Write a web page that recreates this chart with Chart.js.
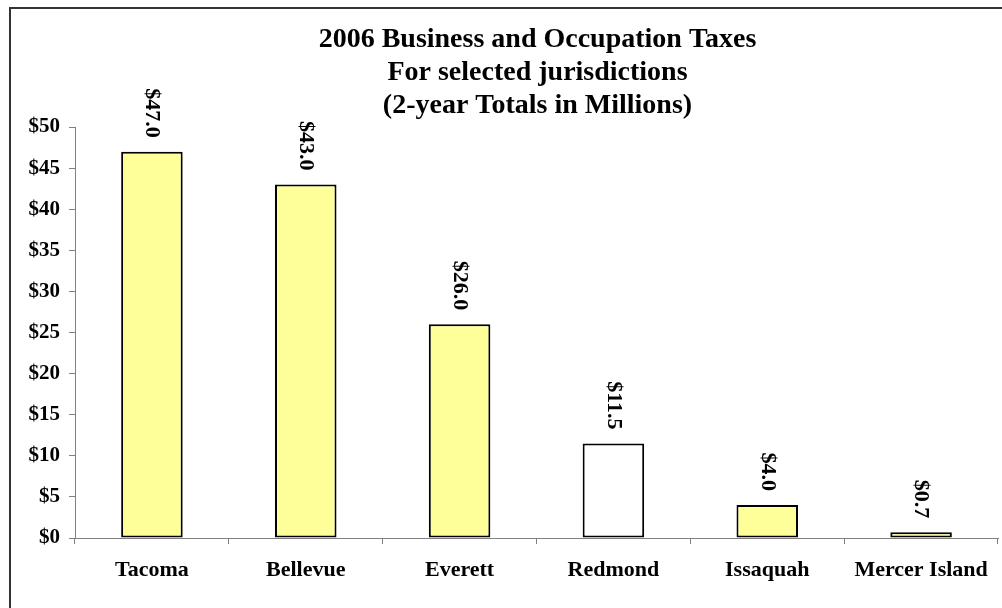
<!DOCTYPE html>
<html>
<head>
<meta charset="utf-8">
<script src="https://cdn.jsdelivr.net/npm/chart.js@4"></script>
<style>
  html, body { margin: 0; padding: 0; background: #fff; overflow: hidden; }
  canvas { display: block; }
</style>
</head>
<body>
<canvas id="c" width="1002" height="608"></canvas>
<script>
const categories = ['Tacoma', 'Bellevue', 'Everett', 'Redmond', 'Issaquah', 'Mercer Island'];
const values = [47.0, 43.0, 26.0, 11.5, 4.0, 0.7];
const titleLines = ['2006 Business and Occupation Taxes', 'For selected jurisdictions', '(2-year Totals in Millions)'];
const yMin = 0, yMax = 50, yStep = 5;

const FONT = "'Liberation Serif', 'Times New Roman', serif";

const framePlugin = {
  id: 'frame',
  beforeDraw(chart) {
    const ctx = chart.ctx;
    ctx.save();
    ctx.fillStyle = '#fff';
    ctx.fillRect(0, 0, chart.width, chart.height);
    ctx.strokeStyle = '#333';
    ctx.lineWidth = 2;
    ctx.strokeRect(10, 8, chart.width + 20, chart.height + 20);
    ctx.restore();
  }
};

const titlePlugin = {
  id: 'centeredTitle',
  afterDraw(chart) {
    const ctx = chart.ctx;
    const a = chart.chartArea;
    const cx = (a.left + a.right) / 2 + 1;
    ctx.save();
    ctx.font = "bold 28px " + FONT;
    ctx.fillStyle = '#000';
    ctx.textAlign = 'center';
    ctx.textBaseline = 'alphabetic';
    titleLines.forEach((t, i) => ctx.fillText(t, cx, 47 + i * 33));
    ctx.restore();
  }
};

const valueLabels = {
  id: 'valueLabels',
  afterDatasetsDraw(chart) {
    const ctx = chart.ctx;
    const meta = chart.getDatasetMeta(0);
    ctx.save();
    ctx.font = "bold 22px " + FONT;
    ctx.fillStyle = '#000';
    meta.data.forEach((bar, i) => {
      const v = chart.data.datasets[0].data[i];
      ctx.save();
      ctx.translate(bar.x, bar.y - 14);
      ctx.rotate(Math.PI / 2);
      ctx.textAlign = 'right';
      ctx.textBaseline = 'middle';
      ctx.fillText('$' + v.toFixed(1), 0, 0);
      ctx.restore();
    });
    ctx.restore();
  }
};

new Chart(document.getElementById('c'), {
  type: 'bar',
  data: {
    labels: categories,
    datasets: [{
      data: values,
      backgroundColor: categories.map(c => c === 'Redmond' ? '#FFFFFF' : '#FFFF99'),
      borderColor: '#000',
      borderWidth: 2,
      borderSkipped: false,
      categoryPercentage: 1.0,
      barPercentage: 0.4
    }]
  },
  options: {
    responsive: false,
    animation: false,
    devicePixelRatio: 1,
    layout: { padding: { left: 10, right: 4, top: 127, bottom: 0 } },
    plugins: {
      legend: { display: false },
      tooltip: { enabled: false },
      title: { display: false }
    },
    scales: {
      x: {
        grid: { display: true, drawOnChartArea: false, drawTicks: true, tickLength: 6, color: '#808080', offset: true },
        border: { display: true, color: '#808080', width: 1 },
        ticks: { color: '#000', font: { family: FONT, size: 22, weight: 'bold' }, padding: 13, maxRotation: 0, autoSkip: false },
        afterFit(scale) { scale.height = 70; }
      },
      y: {
        min: yMin, max: yMax,
        grid: { display: true, drawOnChartArea: false, drawTicks: true, tickLength: 6, color: '#808080' },
        border: { display: true, color: '#808080', width: 1 },
        ticks: {
          stepSize: yStep,
          color: '#000',
          padding: 9,
          font: { family: FONT, size: 21, weight: 'bold' },
          callback: v => '$' + v
        },
        afterFit(scale) { scale.width = 65; }
      }
    }
  },
  plugins: [framePlugin, valueLabels, titlePlugin]
});
</script>
</body>
</html>
